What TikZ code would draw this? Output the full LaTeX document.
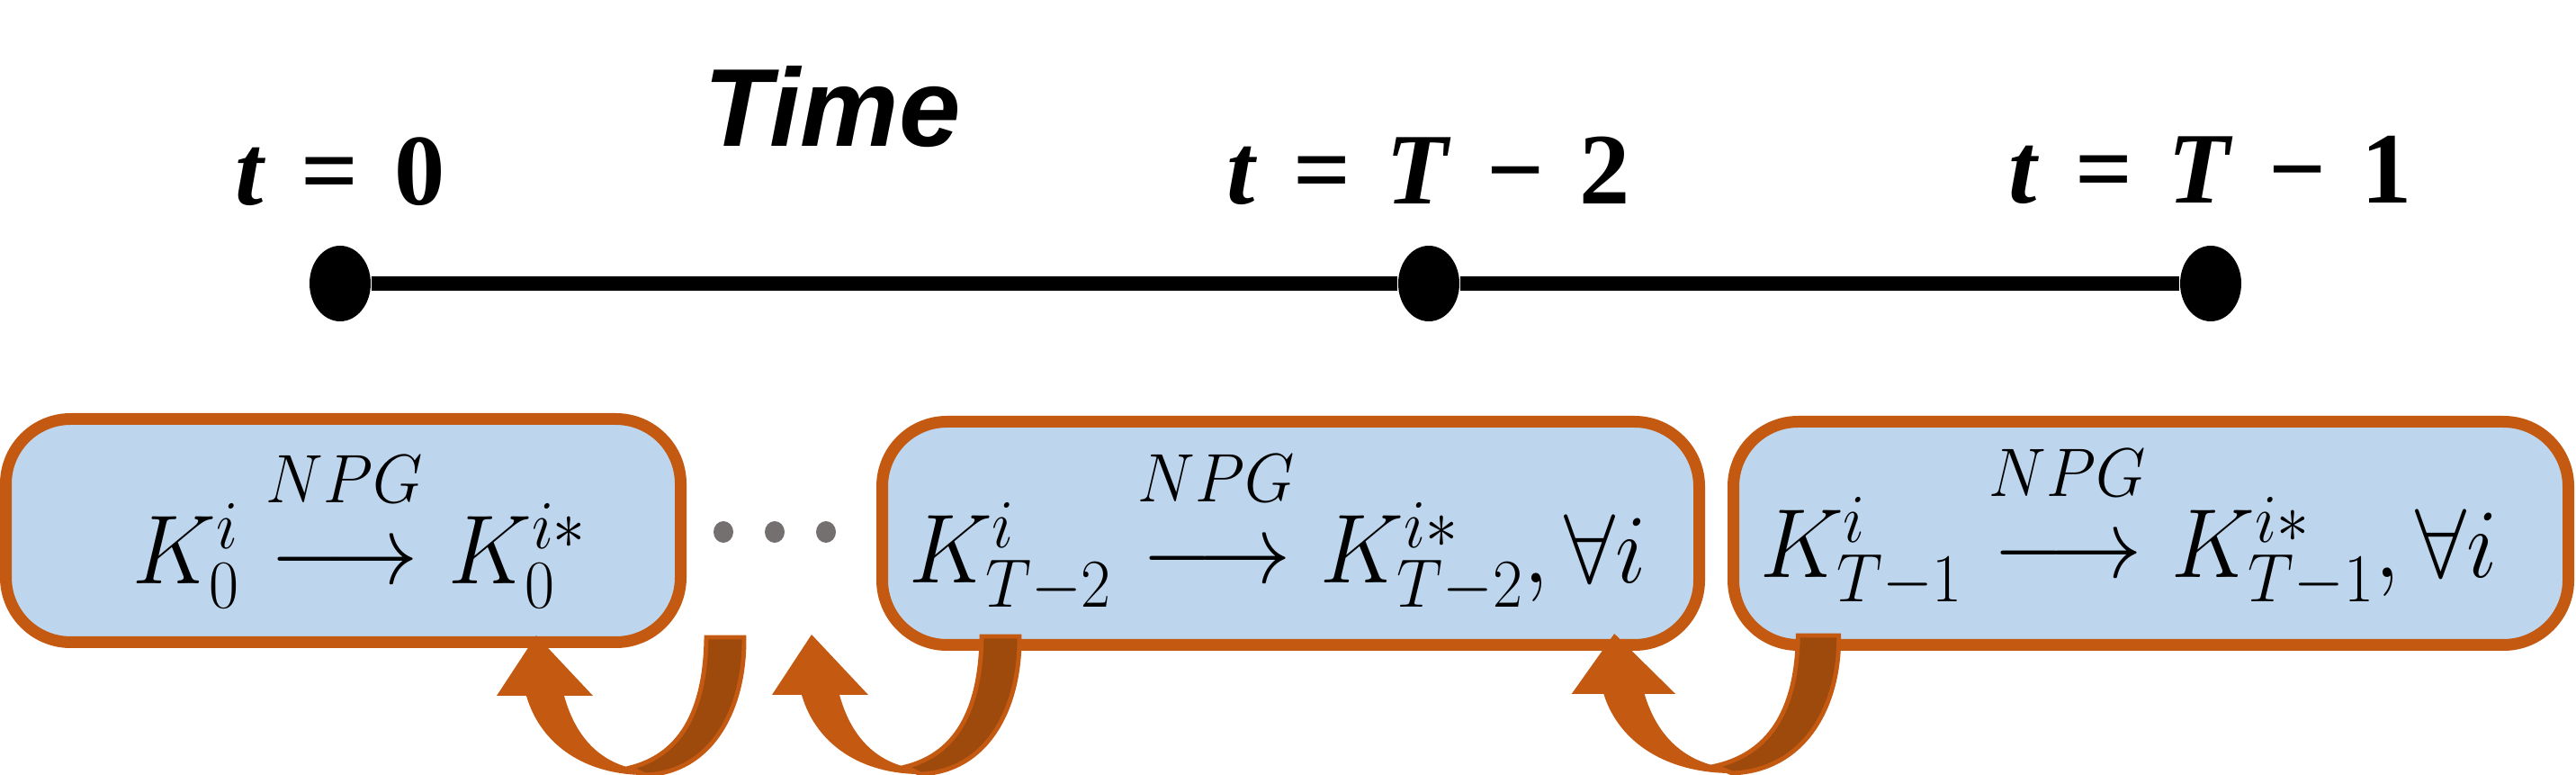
\RequirePackage{fix-cm}
\documentclass[tikz,border=0pt]{standalone}
\usepackage{amsmath}
\usepackage{fontspec}
\newfontfamily\timefont{Liberation Sans}
\newfontfamily\labfont{Liberation Serif}
\usetikzlibrary{shapes.geometric}

\definecolor{cczzqq}{rgb}{0.77, 0.35, 0.07}
\definecolor{zzttqq}{rgb}{0.62, 0.29, 0.05}
\definecolor{bbddee}{rgb}{0.74, 0.84, 0.93}
\definecolor{ttgray}{rgb}{0.46, 0.44, 0.44}

\tikzset{
  box/.style={draw=cczzqq, line width=3.7pt, fill=bbddee, rounded corners=0.72cm, minimum height=2.48cm, inner sep=0pt},
  eq/.style={font=\fontsize{31}{36}\selectfont, inner sep=0pt, anchor=base},
  tlab/.style={font=\fontsize{32}{38}\selectfont\labfont\bfseries, inner sep=0pt, anchor=base},
  tick/.style={ellipse, fill=black, minimum width=0.68cm, minimum height=0.84cm, inner sep=0pt}
}

\newcommand{\npg}{\overset{\raisebox{0.3em}{$\scriptstyle NPG$}}{\longrightarrow}}
\newcommand{\gap}{\hspace{0.35em}}
\newcommand{\eqnarrow}[1]{\scalebox{0.94}[1]{$#1$}}

% u-turn ribbon arrow, #1 = foot of the head, #2 = width factor
\newcommand{\turnarrow}[2]{%
  \begin{scope}[shift={#1}, xscale=#2]
    \filldraw[draw=cczzqq, fill=zzttqq, line width=1.4pt] (1.79,0.65) -- (2.21,0.65) .. controls (2.22,-0.15) and (1.85,-0.85) .. (1.11,-0.88) -- (0.94,-0.80) .. controls (1.55,-0.65) and (1.78,-0.10) .. (1.79,0.65) -- cycle;
    \fill[cczzqq] (-0.54,0) -- (-0.10,0.67) -- (0.53,0) -- (0.21,0) .. controls (0.32,-0.40) and (0.55,-0.70) .. (0.94,-0.80) -- (1.11,-0.88) .. controls (0.45,-0.88) and (-0.05,-0.55) .. (-0.21,0) -- cycle;
  \end{scope}}

\begin{document}
\begin{tikzpicture}
    \useasboundingbox (0,0) rectangle (28.63,-8.61);

    % time axis
    \node[tick] (d0) at (3.78,-3.15) {};
    \node[tick] (d1) at (15.88,-3.15) {};
    \node[tick] (d2) at (24.57,-3.15) {};
    \draw[line width=4.3pt] (d0) -- (d1) -- (d2);

    \node[tlab] (l0) at ([yshift=0.87cm]d0.center) {\textit{t}\gap=\gap0};
    \node[tlab] (l1) at ([yshift=0.88cm]d1.center) {\textit{t}\gap=\gap\textit{T}\gap−\gap2};
    \node[tlab] (l2) at ([yshift=0.89cm]d2.center) {\textit{t}\gap=\gap\textit{T}\gap−\gap1};
    \node[font=\fontsize{35}{40}\selectfont\timefont\bfseries\itshape, inner sep=0pt, anchor=base] (time) at (9.25,-1.63) {Time};

    % boxes
    \node[box, minimum width=7.50cm] (b0) at (3.815,-5.895) {};
    \node[box, minimum width=9.08cm] (b1) at (14.345,-5.925) {};
    \node[box, minimum width=9.28cm] (b2) at (23.905,-5.925) {};

    \node[eq] (e0) at (4.0,-6.49) {\eqnarrow{K_0^{i}\npg K_0^{i*}}};
    \node[eq] (e1) at (14.2,-6.48) {\eqnarrow{K_{T-2}^{i}\npg K_{T-2}^{i*},\forall i}};
    \node[eq] (e2) at (23.66,-6.42) {\eqnarrow{K_{T-1}^{i}\npg K_{T-1}^{i*},\forall i}};

    \foreach \x in {8.04, 8.61, 9.18}
    \fill[ttgray] (\x,-5.91) ellipse (0.11 and 0.12);

    % turning arrows
    \coordinate (a0) at (6.06,-7.73);
    \coordinate (a1) at (9.12,-7.72);
    \coordinate (a2) at (18.05,-7.71);
    \turnarrow{(a0)}{1}
    \turnarrow{(a1)}{1}
    \turnarrow{(a2)}{1.08}
\end{tikzpicture}
\end{document}
